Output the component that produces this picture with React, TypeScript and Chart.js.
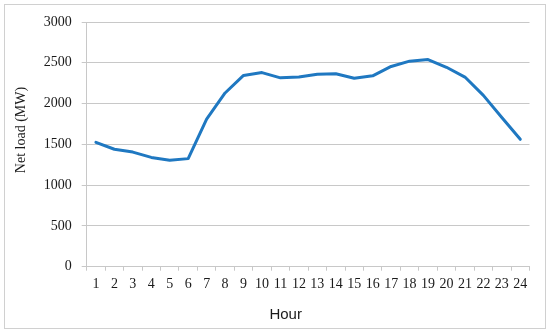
import React, { useEffect, useRef } from "react";
import { Chart, registerables } from "chart.js";

Chart.register(...registerables);

const hours = ["1","2","3","4","5","6","7","8","9","10","11","12","13","14","15","16","17","18","19","20","21","22","23","24"];
const netLoad = [1525, 1440, 1405, 1340, 1305, 1325, 1810, 2130, 2345, 2380, 2315, 2325, 2360, 2365, 2310, 2340, 2455, 2520, 2540, 2445, 2325, 2100, 1830, 1562];
const yMin = 0;
const yMax = 3000;
const yStep = 500;
const xTitle = "Hour";
const yTitle = "Net load (MW)";

const titlePlugin = {
  id: "axisTitles",
  afterDraw(chart: any) {
    const { ctx, chartArea } = chart;
    ctx.save();
    ctx.fillStyle = "#1a1a1a";
    ctx.textAlign = "center";
    ctx.textBaseline = "middle";
    ctx.font = "15px 'Liberation Sans', Arial, sans-serif";
    ctx.fillText(xTitle, chartArea.left + 199, chartArea.bottom + 48);
    ctx.translate(21, chartArea.top + 108);
    ctx.rotate(-Math.PI / 2);
    ctx.font = "14px 'Liberation Serif', 'Times New Roman', serif";
    ctx.fillText(yTitle, 0, 0);
    ctx.restore();
  },
};

export default function App() {
  const ref = useRef<HTMLCanvasElement | null>(null);
  useEffect(() => {
    if (!ref.current) return;
    const gridColor = "#c8c8c8";
    const tickFont = { family: "'Liberation Serif', 'Times New Roman', serif", size: 14 };
    const chart = new Chart(ref.current, {
      type: "line",
      data: {
        labels: hours,
        datasets: [
          {
            data: netLoad,
            borderColor: "#1f78c1",
            backgroundColor: "#1f78c1",
            borderWidth: 3,
            pointRadius: 0,
            tension: 0,
            borderJoinStyle: "round",
            borderCapStyle: "round",
            fill: false,
          },
        ],
      },
      options: {
        animation: false,
        responsive: false,
        maintainAspectRatio: false,
        devicePixelRatio: 1,
        layout: { padding: { left: 0, top: 22, right: 20.5, bottom: 0 } },
        plugins: { legend: { display: false }, tooltip: { enabled: false } },
        scales: {
          x: {
            offset: true,
            grid: {
              display: true,
              drawOnChartArea: false,
              drawTicks: true,
              tickLength: 4,
              offset: true,
              color: gridColor,
            },
            border: { display: true, color: gridColor, width: 1 },
            ticks: { color: "#1a1a1a", font: tickFont, padding: 5, maxRotation: 0, autoSkip: false },
            afterFit: (scale: any) => {
              scale.height = 66.3;
            },
          },
          y: {
            min: yMin,
            max: yMax,
            grid: { color: gridColor, tickLength: 5, drawTicks: true },
            border: { display: true, color: gridColor, width: 1 },
            ticks: {
              stepSize: yStep,
              color: "#1a1a1a",
              font: tickFont,
              padding: 10,
              callback: (v: any) => String(v),
            },
            afterFit: (scale: any) => {
              scale.width = 86.7;
            },
          },
        },
      },
      plugins: [titlePlugin],
    } as any);
    return () => chart.destroy();
  }, []);

  return (
    <div style={{ position: "fixed", left: 0, top: 0, width: 550, height: 333, background: "#fff" }}>
      <div
        style={{
          position: "absolute",
          left: 4,
          top: 4,
          width: 540,
          height: 323,
          border: "1px solid #d0d0d0",
        }}
      />
      <canvas ref={ref} width={550} height={333} style={{ position: "absolute", left: 0, top: 0, width: 550, height: 333 }} />
    </div>
  );
}
